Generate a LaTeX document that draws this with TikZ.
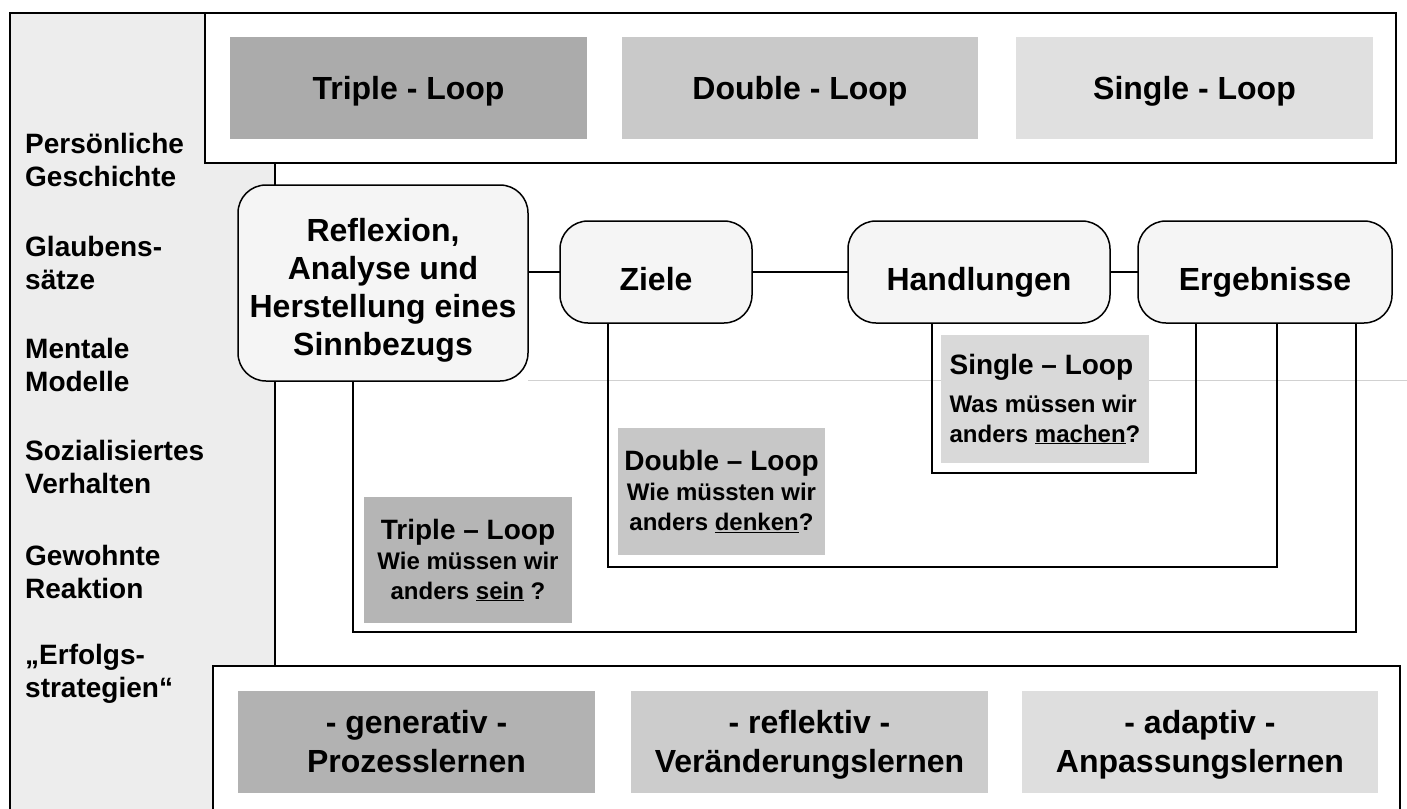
\documentclass[tikz,border=0pt]{standalone}
\usepackage{fontspec}
\setmainfont{Liberation Sans}
\newcommand{\toprule}[1]{\rule{0pt}{#1}}
\newcommand{\botrule}[1]{\rule[-#1]{0pt}{#1}}
\begin{document}
\begin{tikzpicture}[x=1pt,y=-1pt,
  frame/.style={draw=black, line width=1.6pt, fill=white, inner sep=0pt, outer sep=0pt, anchor=north west},
  bigbox/.style={inner sep=0pt, outer sep=0pt, anchor=north west, minimum width=357pt, minimum height=102pt, align=center, font=\bfseries\fontsize{32}{39}\selectfont},
  sidetxt/.style={anchor=north west, inner sep=0pt, align=left, font=\bfseries\fontsize{28}{33}\selectfont},
  roundbox/.style={draw=black, line width=1.5pt, fill=black!4, rounded corners=28pt, inner sep=0pt, outer sep=0pt, anchor=north west, align=center, font=\bfseries\fontsize{32}{38}\selectfont},
  conn/.style={draw=black, line width=1.5pt},
  qbox/.style={inner sep=0pt, outer sep=0pt, anchor=north west, minimum width=208pt, minimum height=127pt, align=center, font=\bfseries\fontsize{24}{30}\selectfont},
]
\path[use as bounding box] (0,0) rectangle (1407,808);
\clip (0,0) rectangle (1407,808);
\fill[white] (0,0) rectangle (1407,808);

% left panel
\fill[black!7] (10,13) rectangle (275,815);
\draw[line width=1.6pt] (10,815) -- (10,13) -- (205,13);

% frames
\node[frame, minimum width=1191pt, minimum height=150pt] (topbox) at (205,13) {};
\node[frame, minimum width=1187pt, minimum height=150pt] (botbox) at (213,666) {};
\coordinate (vl) at (275,0);
\draw[conn] (topbox.south -| vl) -- (botbox.north -| vl);

% faint line
\draw[black!18, line width=0.8pt] (528,380) -- (1407,380);

% top boxes
\node[bigbox, fill=black!33, text height=23pt, text depth=0pt] (tl) at (230,37) {Triple - Loop};
\node[bigbox, fill=black!21, minimum width=356pt, text height=23pt, text depth=0pt] (dl) at (622,37) {Double - Loop};
\node[bigbox, fill=black!12, text height=23pt, text depth=0pt] (sl) at (1016,37) {Single - Loop};

% bottom boxes
\node[bigbox, fill=black!30] (gen) at (238,691) {\toprule{30pt}- generativ -\\Prozesslernen\botrule{9pt}};
\node[bigbox, fill=black!20] (ref) at (631,691) {\toprule{30pt}- reflektiv -\\Veränderungslernen\botrule{9pt}};
\node[bigbox, fill=black!13, minimum width=356pt] (ada) at (1022,691) {\toprule{30pt}- adaptiv -\\Anpassungslernen\botrule{9pt}};

% side texts
\node[sidetxt] (p1) at (25,133) {Persönliche\\Geschichte};
\node[sidetxt] (p2) at (25,236) {Glaubens-\\sätze};
\node[sidetxt] (p3) at (25,338) {Mentale\\Modelle};
\node[sidetxt] (p4) at (25,440) {Sozialisiertes\\Verhalten};
\node[sidetxt] (p5) at (25,545) {Gewohnte\\Reaktion};
\node[sidetxt] (p6) at (25,644) {„Erfolgs-\\strategien“};

% loop corners
\coordinate (s1) at (932,473); \coordinate (s2) at (1196,473);
\coordinate (d1) at (608,567); \coordinate (d2) at (1277,567);
\coordinate (t1) at (353,632); \coordinate (t2) at (1356,632);

% rounded boxes
\node[roundbox, minimum width=290pt, minimum height=196pt] (refl) at (238,185) {\toprule{38pt}Reflexion,\\Analyse und\\Herstellung eines\\Sinnbezugs};
\node[roundbox, minimum width=192pt, minimum height=102pt, text height=36pt, text depth=0pt] (ziele) at (560,221) {Ziele};
\node[roundbox, minimum width=262pt, minimum height=102pt, text height=36pt, text depth=0pt] (hand) at (848,221) {Handlungen};
\node[roundbox, minimum width=254pt, minimum height=102pt, text height=36pt, text depth=0pt] (erg) at (1138,221) {Ergebnisse};

\draw[conn] (refl.east |- ziele.west) -- (ziele.west);
\draw[conn] (ziele.east) -- (hand.west);
\draw[conn] (hand.east) -- (erg.west);

\draw[conn] (hand.south -| s1) -- (s1) -- (s2) -- (erg.south -| s2);
\draw[conn] (ziele.south -| d1) -- (d1) -- (d2) -- (erg.south -| d2);
\draw[conn] (refl.south -| t1) -- (t1) -- (t2) -- (erg.south -| t2);

% loop labels
\node[qbox, fill=black!15, align=left, minimum height=128pt] (sq) at (941,335)
  {{\fontsize{28}{34}\selectfont Single -- Loop}\\[8pt]Was müssen wir\\anders \underline{machen}?};
\node[qbox, fill=black!22, minimum width=207pt] (dq) at (618,428)
  {{\fontsize{28}{34}\selectfont Double -- Loop}\\Wie müssten wir\\anders \underline{denken}?};
\node[qbox, fill=black!29, minimum height=126pt] (tq) at (364,497)
  {{\fontsize{28}{34}\selectfont Triple -- Loop}\\Wie müssen wir\\anders \underline{sein} ?};
\end{tikzpicture}
\end{document}
